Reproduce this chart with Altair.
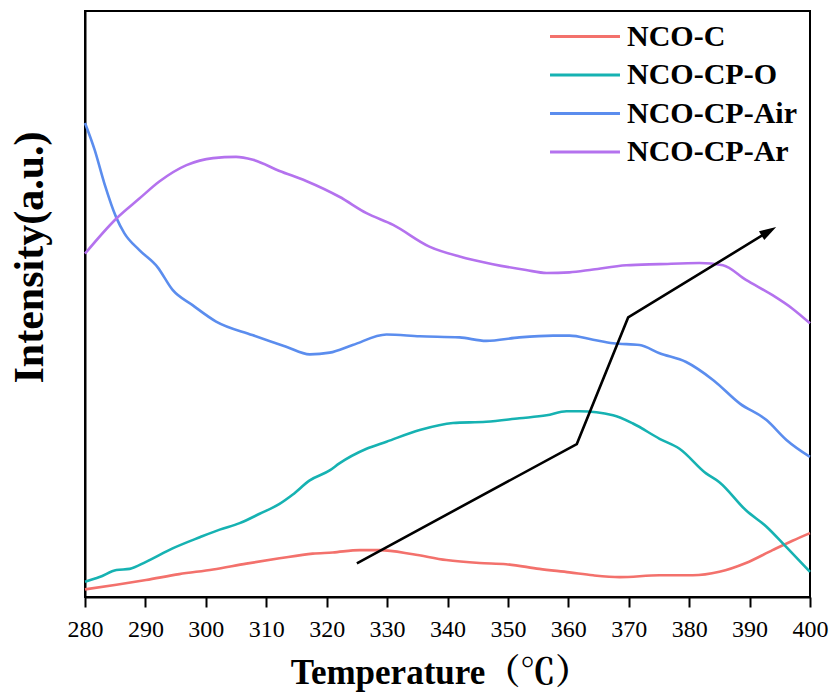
import altair as alt
import pandas as pd

series_names = ["NCO-C", "NCO-CP-O", "NCO-CP-Air", "NCO-CP-Ar"]
series_colors = ["#F3716C", "#16B2B2", "#5B8DEE", "#B472EE"]

c_temp = [280, 285.2, 290.1, 295.6, 301.2, 306.7, 312.2, 317.7, 321, 325.5, 328.8, 334.3, 339.8,
          345.3, 349.7, 355.2, 360.2, 364.1, 368.5, 375.1, 380.6, 385, 389.4, 393.8, 397.1, 400]
c_val = [1.3, 2.1, 2.9, 3.9, 4.7, 5.7, 6.6, 7.4, 7.6, 8.0, 8.0, 7.3, 6.3,
         5.8, 5.6, 4.8, 4.2, 3.7, 3.4, 3.7, 3.7, 4.3, 5.8, 8.0, 9.6, 10.9]

o_temp = [280, 282.4, 285.2, 287.4, 290.1, 294.5, 299, 302.3, 305.6, 308.9, 312.2, 314.4, 317.2,
          320.5, 322.1, 326.6, 329.9, 335.4, 340.9, 346.4, 351.9, 356.4, 359.7, 361.9, 367.4,
          370.7, 375.1, 378.4, 382.8, 385, 389.4, 392.8, 396.1, 400]
o_val = [2.6, 3.4, 4.6, 4.8, 6.0, 8.3, 10.2, 11.5, 12.6, 14.2, 15.9, 17.5, 19.9,
         21.6, 22.8, 25.3, 26.5, 28.5, 29.7, 29.9, 30.5, 31.0, 31.7, 31.7, 31.0,
         29.6, 27.0, 25.3, 21.1, 19.6, 14.8, 12.0, 8.5, 4.3]

air_temp = [280, 281.6, 283.2, 285.2, 286.5, 289, 292, 294.5, 297.8, 301.7, 307.7, 313.3, 317.2,
            320.5, 324.3, 329.9, 335.4, 342, 346.4, 351.9, 357.5, 360.2, 364.1, 367.4, 371.8,
            375.1, 379.5, 384, 388.4, 392.8, 396.1, 400]
air_val = [80.9, 76.3, 70.6, 64.7, 62.1, 59.2, 56.3, 52.4, 49.8, 47.0, 44.7, 42.7, 41.4,
           41.7, 43.0, 44.8, 44.5, 44.3, 43.7, 44.3, 44.6, 44.6, 43.9, 43.3, 43.0,
           41.6, 40.1, 37.0, 33.0, 30.2, 26.8, 23.9]

ar_temp = [280, 285.2, 289, 292.3, 296.8, 301.2, 305, 307.8, 312.2, 316.6, 322.1, 326.6, 331,
           337, 342, 347.5, 353, 356.4, 360.2, 364.1, 369.6, 375.1, 381.7, 385.6, 389.4,
           393.8, 397.1, 400]
ar_val = [58.6, 64.6, 68.0, 70.9, 73.7, 74.9, 75.1, 74.6, 72.7, 71.0, 68.3, 65.5, 63.5,
          59.8, 58.1, 56.8, 55.8, 55.3, 55.4, 55.9, 56.6, 56.8, 57.0, 56.6, 54.1,
          51.5, 49.2, 46.7]

arrow_temp = [325.0, 361.4, 369.9, 393.2]
arrow_val = [5.75, 26.1, 47.7, 62.4]
arrow_order = [0, 1, 2, 3]

tick_values = [280, 285, 290, 295, 300, 305, 310, 315, 320, 325, 330, 335, 340, 345, 350,
               355, 360, 365, 370, 375, 380, 385, 390, 395, 400]

rows = []
for name, ts, vs in [("NCO-C", c_temp, c_val), ("NCO-CP-O", o_temp, o_val),
                     ("NCO-CP-Air", air_temp, air_val), ("NCO-CP-Ar", ar_temp, ar_val)]:
    for t, v in zip(ts, vs):
        rows.append({"series": name, "T": t, "I": v})
df = pd.DataFrame(rows)
arrow_df = pd.DataFrame({"T": arrow_temp, "I": arrow_val, "o": arrow_order})
head_df = pd.DataFrame({"T": [arrow_temp[-1]], "I": [arrow_val[-1]]})

SERIF = "Liberation Serif, Times New Roman, serif"
SERIF_CJK = "Liberation Serif, Noto Serif CJK SC, Noto Sans CJK SC, serif"

xscale = alt.Scale(domain=[280, 400], nice=False, zero=False)
yscale = alt.Scale(domain=[0, 100], nice=False, zero=False)

lines = alt.Chart(df).mark_line(strokeWidth=2.6, interpolate="monotone").encode(
    x=alt.X("T:Q", scale=xscale, axis=alt.Axis(
        values=tick_values,
        tickSize={"condition": {"test": "datum.value % 10 === 0", "value": 10}, "value": 5},
        tickWidth=2, tickColor="black",
        domainColor="black", domainWidth=2, grid=False,
        labelExpr="datum.value % 10 === 0 ? datum.label : ''",
        labelFont=SERIF, labelFontSize=24, labelColor="black", labelPadding=10,
        labelFlush=False, labelOverlap=False, format="d",
        title="Temperature（℃）", titleFont=SERIF_CJK, titleFontSize=35, titleFontWeight="bold",
        titleColor="black", titleX=355, titleY=86, titleBaseline="alphabetic", titleAlign="center")),
    y=alt.Y("I:Q", scale=yscale, axis=alt.Axis(
        labels=False, ticks=False, grid=False, domainColor="black", domainWidth=2,
        title="Intensity(a.u.)", titleFont=SERIF, titleFontSize=42,
        titleFontWeight="bold", titleColor="black", titleAngle=-90, titleX=-43, titleY=246,
        titleBaseline="alphabetic", titleAlign="center")),
    color=alt.Color("series:N", sort=series_names,
                    scale=alt.Scale(domain=series_names, range=series_colors),
                    legend=alt.Legend(
                        title=None, orient="none", legendX=485, legendY=10.5,
                        symbolType="M-4,0H4", symbolSize=306, symbolStrokeWidth=3,
                        labelFont=SERIF, labelFontSize=30, labelFontWeight="bold",
                        labelColor="black", labelOffset=27, labelLimit=400, rowPadding=8.5)),
    detail="series:N",
)

arrow = alt.Chart(arrow_df).mark_line(color="black", strokeWidth=2.6).encode(
    x=alt.X("T:Q", scale=xscale), y=alt.Y("I:Q", scale=yscale), order="o:Q")

head = alt.Chart(head_df).mark_point(
    shape="M0,-1L0.6,1L-0.6,1Z", size=289, angle=59, filled=True, color="black", opacity=1
).encode(x=alt.X("T:Q", scale=xscale), y=alt.Y("I:Q", scale=yscale))

chart = alt.layer(lines, arrow, head).properties(
    width=725, height=586,
    autosize=alt.AutoSizeParams(type="none"),
    padding={"left": 85, "top": 11, "right": 24, "bottom": 98},
    background="white",
).configure_view(stroke="black", strokeWidth=2)

chart.save("out.html", embed_options={"renderer": "svg", "actions": False})
